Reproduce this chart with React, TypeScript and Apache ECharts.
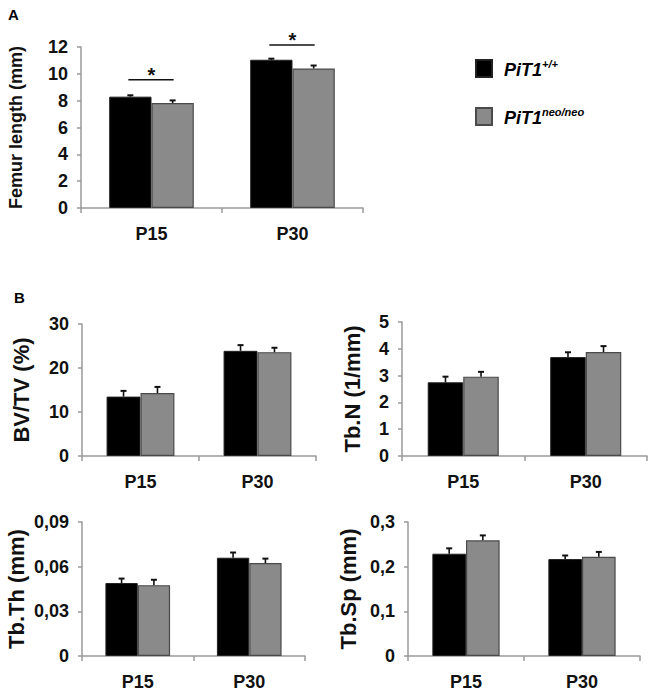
import React, { useEffect, useRef } from 'react';
import * as echarts from 'echarts';

const FONT = "'Liberation Sans', Arial, Helvetica, sans-serif";

// ---- data ----
const categories = ['P15', 'P30'];
const seriesNames = ['PiT1+/+', 'PiT1neo/neo'];

const femurWT = [8.3, 11.05];
const femurWTErr = [0.1, 0.08];
const femurNeo = [7.82, 10.4];
const femurNeoErr = [0.2, 0.22];
const femurSigLevels = [9.55, 12.15];

const bvtvWT = [13.5, 23.9];
const bvtvWTErr = [1.3, 1.3];
const bvtvNeo = [14.3, 23.6];
const bvtvNeoErr = [1.4, 1.0];

const tbnWT = [2.75, 3.69];
const tbnWTErr = [0.21, 0.18];
const tbnNeo = [2.96, 3.88];
const tbnNeoErr = [0.18, 0.22];

const tbthWT = [0.049, 0.066];
const tbthWTErr = [0.003, 0.0035];
const tbthNeo = [0.0476, 0.0624];
const tbthNeoErr = [0.0036, 0.003];

const tbspWT = [0.229, 0.217];
const tbspWTErr = [0.012, 0.008];
const tbspNeo = [0.259, 0.222];
const tbspNeoErr = [0.011, 0.011];

const axisTitles = ['Femur length (mm)', 'BV/TV (%)', 'Tb.N (1/mm)', 'Tb.Th (mm)', 'Tb.Sp (mm)'];
const axisMax = [12, 30, 5, 0.09, 0.3];
const axisInterval = [2, 10, 1, 0.03, 0.1];
const axisDecimals = [0, 0, 0, 2, 1];

const panelData = [
  { wt: femurWT, wtErr: femurWTErr, neo: femurNeo, neoErr: femurNeoErr },
  { wt: bvtvWT, wtErr: bvtvWTErr, neo: bvtvNeo, neoErr: bvtvNeoErr },
  { wt: tbnWT, wtErr: tbnWTErr, neo: tbnNeo, neoErr: tbnNeoErr },
  { wt: tbthWT, wtErr: tbthWTErr, neo: tbthNeo, neoErr: tbthNeoErr },
  { wt: tbspWT, wtErr: tbspWTErr, neo: tbspNeo, neoErr: tbspNeoErr },
];

// ---- layout ----
const layouts = [
  { left: 81, top: 47, width: 282, height: 161, nameGap: 56, gap: 0.4, titleSize: 18 },
  { left: 82, top: 324, width: 234, height: 132, nameGap: 50, gap: 0.42, titleSize: 22 },
  { left: 402, top: 322, width: 245, height: 134, nameGap: 39, gap: 0.42, titleSize: 22 },
  { left: 82, top: 522, width: 223, height: 134, nameGap: 55, gap: 0.42, titleSize: 22 },
  { left: 408, top: 522, width: 232, height: 134, nameGap: 49, gap: 0.42, titleSize: 22 },
];

const AXIS_COLOR = '#9a9a9a';
const BLACK = '#000000';
const GREY = '#8a8a8a';

function errRender(side: number, gapFrac: number) {
  return (params: any, api: any) => {
    const idx = api.value(0);
    const v = api.value(1);
    const e = api.value(2);
    const band = api.size([1, 0])[0];
    const bw = (band * (1 - gapFrac)) / 2;
    const base = api.coord([idx, v]);
    const top = api.coord([idx, v + e]);
    const cx = base[0] + (side * bw) / 2;
    return {
      type: 'group',
      children: [
        { type: 'line', shape: { x1: cx, y1: base[1], x2: cx, y2: top[1] }, style: { stroke: '#111', lineWidth: 1.6 } },
        { type: 'line', shape: { x1: cx - 3, y1: top[1], x2: cx + 3, y2: top[1] }, style: { stroke: '#111', lineWidth: 2 } },
      ],
    };
  };
}

function sigRender(gapFrac: number) {
  return (params: any, api: any) => {
    const idx = api.value(0);
    const lvl = api.value(1);
    const band = api.size([1, 0])[0];
    const bw = (band * (1 - gapFrac)) / 2;
    const p = api.coord([idx, lvl]);
    return {
      type: 'group',
      children: [
        { type: 'line', shape: { x1: p[0] - bw / 2 - 2, y1: p[1], x2: p[0] + bw / 2 + 1, y2: p[1] }, style: { stroke: '#111', lineWidth: 1.5 } },
        {
          type: 'text',
          x: p[0],
          y: p[1] - 5,
          style: { text: '*', font: `bold 20px ${FONT}`, fill: '#111', align: 'center', verticalAlign: 'middle' },
        },
      ],
    };
  };
}

export default function App() {
  const ref = useRef<HTMLDivElement>(null);
  useEffect(() => {
    document.body.style.margin = '0';
    if (!ref.current) return;
    const chart = echarts.init(ref.current, undefined, { renderer: 'svg' });

    const grids: any[] = [];
    const xAxes: any[] = [];
    const yAxes: any[] = [];
    const series: any[] = [];

    layouts.forEach((l, i) => {
      grids.push({ left: l.left, top: l.top, width: l.width, height: l.height, containLabel: false });
      xAxes.push({
        type: 'category',
        gridIndex: i,
        data: categories,
        axisLine: { lineStyle: { color: AXIS_COLOR, width: 1.5 } },
        axisTick: { show: true, length: 5, lineStyle: { color: AXIS_COLOR, width: 1.5 } },
        axisLabel: { color: '#111', fontFamily: FONT, fontWeight: 'bold', fontSize: 18, margin: 17 },
      });
      const dec = axisDecimals[i];
      yAxes.push({
        type: 'value',
        gridIndex: i,
        min: 0,
        max: axisMax[i],
        interval: axisInterval[i],
        name: axisTitles[i],
        nameLocation: 'middle',
        nameGap: l.nameGap,
        nameTextStyle: { color: '#111', fontFamily: FONT, fontWeight: 'bold', fontSize: l.titleSize },
        axisLine: { show: true, lineStyle: { color: AXIS_COLOR, width: 1.5 } },
        axisTick: { show: true, length: 4, lineStyle: { color: AXIS_COLOR, width: 1.5 } },
        splitLine: { show: false },
        axisLabel: {
          color: '#111',
          fontFamily: FONT,
          fontWeight: 'bold',
          fontSize: 18,
          margin: 13,
          formatter: (v: number) => String(+v.toFixed(dec)).replace('.', ','),
        },
      });
      const d = panelData[i];
      const gapPct = `${Math.round(l.gap * 100)}%`;
      series.push({
        type: 'bar',
        name: seriesNames[0],
        xAxisIndex: i,
        yAxisIndex: i,
        data: d.wt,
        barGap: '0%',
        barCategoryGap: gapPct,
        itemStyle: { color: BLACK, borderColor: '#222', borderWidth: 1 },
        z: 2,
      });
      series.push({
        type: 'bar',
        name: seriesNames[1],
        xAxisIndex: i,
        yAxisIndex: i,
        data: d.neo,
        barGap: '0%',
        barCategoryGap: gapPct,
        itemStyle: { color: GREY, borderColor: '#4a4a4a', borderWidth: 1.2 },
        z: 2,
      });
      series.push({
        type: 'custom',
        xAxisIndex: i,
        yAxisIndex: i,
        renderItem: errRender(-1, l.gap),
        data: d.wt.map((v, k) => [k, v, d.wtErr[k]]),
        encode: { x: 0, y: 1 },
        clip: false,
        z: 5,
      });
      series.push({
        type: 'custom',
        xAxisIndex: i,
        yAxisIndex: i,
        renderItem: errRender(1, l.gap),
        data: d.neo.map((v, k) => [k, v, d.neoErr[k]]),
        encode: { x: 0, y: 1 },
        clip: false,
        z: 5,
      });
    });

    series.push({
      type: 'custom',
      xAxisIndex: 0,
      yAxisIndex: 0,
      renderItem: sigRender(layouts[0].gap),
      data: femurSigLevels.map((v, k) => [k, v]),
      encode: { x: 0, y: 1 },
      clip: false,
      z: 5,
    });

    chart.setOption({
      animation: false,
      backgroundColor: '#ffffff',
      grid: grids,
      xAxis: xAxes,
      yAxis: yAxes,
      series,
      legend: {
        orient: 'vertical',
        left: 470,
        top: 53,
        itemWidth: 16,
        itemHeight: 17,
        itemGap: 27,
        icon: 'rect',
        selectedMode: false,
        data: seriesNames,
        formatter: (name: string) =>
          name === seriesNames[0] ? '{a|PiT1}{s|+/+}' : '{a|PiT1}{s|neo/neo}',
        textStyle: {
          rich: {
            a: {
              fontFamily: FONT,
              fontWeight: 'bold',
              fontStyle: 'italic',
              fontSize: 18,
              color: '#000',
              padding: [0, 0, 0, 7],
              lineHeight: 21,
              verticalAlign: 'bottom',
            },
            s: {
              fontFamily: FONT,
              fontWeight: 'bold',
              fontStyle: 'italic',
              fontSize: 11,
              color: '#000',
              lineHeight: 11,
              verticalAlign: 'top',
            },
          },
        },
      },
      graphic: [
        { type: 'text', left: 8, top: 7, style: { text: 'A', font: `bold 15px ${FONT}`, fill: '#000' } },
        { type: 'text', left: 14, top: 290, style: { text: 'B', font: `bold 15px ${FONT}`, fill: '#000' } },
      ],
    });
    return () => chart.dispose();
  }, []);
  return <div ref={ref} style={{ width: 653, height: 696 }} />;
}
